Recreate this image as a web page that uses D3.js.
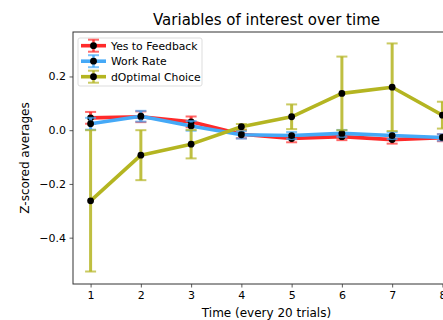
<!DOCTYPE html>
<html>
<head>
<meta charset="utf-8">
<script src="https://cdn.jsdelivr.net/npm/d3@7"></script>
<style>
  body { margin: 0; background: #fff; overflow: hidden; }
  text { font-family: "DejaVu Sans", sans-serif; fill: #000; }
</style>
</head>
<body>
<div id="chart"></div>
<script>
const timePoints = [1, 2, 3, 4, 5, 6, 7, 8];

const feedbackMean = [0.046, 0.050, 0.031, -0.015, -0.031, -0.024, -0.035, -0.028];
const feedbackErr  = [0.022, 0.020, 0.020, 0.015, 0.014, 0.013, 0.015, 0.013];

const workRateMean = [0.024, 0.052, 0.016, -0.017, -0.020, -0.012, -0.020, -0.027];
const workRateErr  = [0.022, 0.020, 0.018, 0.014, 0.013, 0.013, 0.013, 0.012];

const optimalMean = [-0.263, -0.093, -0.052, 0.013, 0.050, 0.137, 0.160, 0.056];
const optimalErr  = [0.263, 0.093, 0.053, 0.010, 0.046, 0.137, 0.163, 0.050];

const yTicks = [-0.4, -0.2, 0.0, 0.2];

const series = [
    { name: "Yes to Feedback", mean: feedbackMean, err: feedbackErr, color: "#ff2a2a" },
    { name: "Work Rate", mean: workRateMean, err: workRateErr, color: "#45a9f7" },
    { name: "dOptimal Choice", mean: optimalMean, err: optimalErr, color: "#b4b521" }
];

const width = 443, height = 320;
const plotLeft = 73, plotTop = 32, plotBottom = 284, plotRight = 460;

const svg = d3.select("#chart").append("svg")
    .attr("width", width)
    .attr("height", height);

const x = d3.scaleLinear().domain([0.65, 8.35]).range([plotLeft, plotRight]);
const y = d3.scaleLinear().domain([-0.5725, 0.3655]).range([plotBottom, plotTop]);

// series lines + error bars
series.forEach(s => {
    const g = svg.append("g");
    const pts = timePoints.map((t, i) => ({ t: t, m: s.mean[i], e: s.err[i] }));

    g.selectAll(".err")
        .data(pts)
        .enter()
        .append("line")
        .attr("x1", d => x(d.t)).attr("x2", d => x(d.t))
        .attr("y1", d => y(d.m - d.e)).attr("y2", d => y(d.m + d.e))
        .attr("stroke", s.color)
        .attr("stroke-width", 3)
        .attr("opacity", 0.85);

    [-1, 1].forEach(sign => {
        g.selectAll(".cap" + sign)
            .data(pts)
            .enter()
            .append("line")
            .attr("x1", d => x(d.t) - 5.5).attr("x2", d => x(d.t) + 5.5)
            .attr("y1", d => y(d.m + sign * d.e)).attr("y2", d => y(d.m + sign * d.e))
            .attr("stroke", s.color)
            .attr("stroke-width", 2)
            .attr("opacity", 0.7);
    });

    const line = d3.line().x(d => x(d.t)).y(d => y(d.m));
    g.append("path")
        .datum(pts)
        .attr("d", line)
        .attr("fill", "none")
        .attr("stroke", s.color)
        .attr("stroke-width", 3.6)
        .attr("stroke-linejoin", "round");

    g.selectAll("circle")
        .data(pts)
        .enter()
        .append("circle")
        .attr("cx", d => x(d.t))
        .attr("cy", d => y(d.m))
        .attr("r", 3.4)
        .attr("fill", "#000");
});

// axes
const xAxis = d3.axisBottom(x).tickValues(timePoints).tickSize(3.5).tickPadding(3.5).tickFormat(d3.format("d"));
const yAxis = d3.axisLeft(y).tickValues(yTicks).tickSize(3.5).tickPadding(3.5)
    .tickFormat(d => d3.format(".1f")(d).replace("-", "\u2212"));

const gx = svg.append("g").attr("transform", `translate(0,${plotBottom})`).call(xAxis);
const gy = svg.append("g").attr("transform", `translate(${plotLeft},0)`).call(yAxis);
[gx, gy].forEach(g => {
    g.select(".domain").remove();
    g.selectAll("text").style("font-size", "11px").attr("fill", "#000");
    g.selectAll("line").attr("stroke", "#333").attr("stroke-width", 0.8);
});

// spines
svg.append("rect")
    .attr("x", plotLeft).attr("y", plotTop)
    .attr("width", plotRight - plotLeft).attr("height", plotBottom - plotTop)
    .attr("fill", "none")
    .attr("stroke", "#333")
    .attr("stroke-width", 1);

// title and labels
svg.append("text")
    .attr("x", (plotLeft + plotRight) / 2).attr("y", 25)
    .attr("text-anchor", "middle")
    .style("font-size", "15px")
    .text("Variables of interest over time");

svg.append("text")
    .attr("x", (plotLeft + plotRight) / 2).attr("y", 317)
    .attr("text-anchor", "middle")
    .style("font-size", "12px")
    .text("Time (every 20 trials)");

svg.append("text")
    .attr("transform", `translate(29,${(plotTop + plotBottom) / 2}) rotate(-90)`)
    .attr("text-anchor", "middle")
    .style("font-size", "12px")
    .text("Z-scored averages");

// legend
const legend = svg.append("g").attr("transform", "translate(78,38)");
legend.append("rect")
    .attr("width", 124).attr("height", 48)
    .attr("rx", 2)
    .attr("fill", "#fff").attr("fill-opacity", 0.8)
    .attr("stroke", "#ddd");

series.forEach((s, i) => {
    const cy = 7.7 + i * 15.5;
    const item = legend.append("g").attr("transform", `translate(0,${cy})`);
    item.append("line")
        .attr("x1", 3).attr("x2", 28).attr("y1", 0).attr("y2", 0)
        .attr("stroke", s.color).attr("stroke-width", 3.6);
    item.append("line")
        .attr("x1", 15.5).attr("x2", 15.5).attr("y1", -6).attr("y2", 6)
        .attr("stroke", s.color).attr("stroke-width", 2.5).attr("opacity", 0.85);
    [-6, 6].forEach(dy => item.append("line")
        .attr("x1", 10).attr("x2", 21).attr("y1", dy).attr("y2", dy)
        .attr("stroke", s.color).attr("stroke-width", 2).attr("opacity", 0.7));
    item.append("circle").attr("cx", 15.5).attr("cy", 0).attr("r", 3.4).attr("fill", "#000");
    item.append("text")
        .attr("x", 33).attr("y", 3.8)
        .style("font-size", "10.8px")
        .text(s.name);
});
</script>
</body>
</html>
